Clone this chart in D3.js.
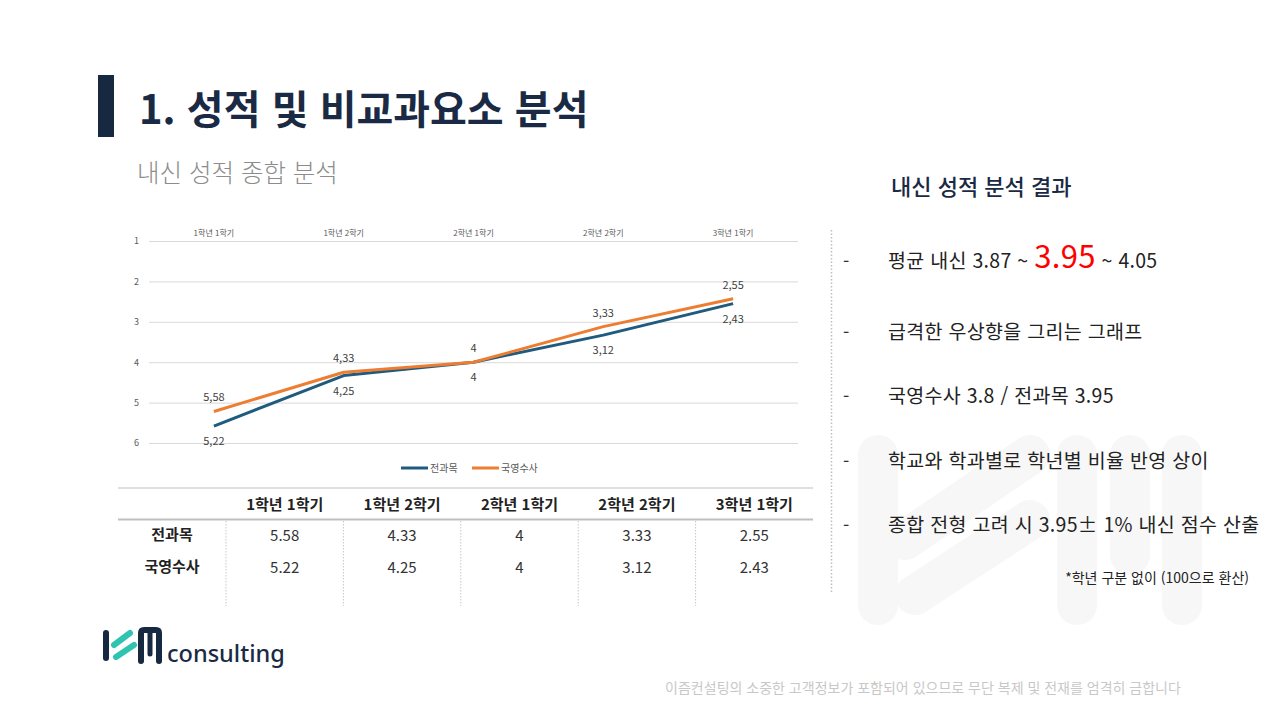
<!DOCTYPE html>
<html lang="ko">
<head>
  <meta charset="UTF-8">
  <title>성적 및 비교과요소 분석</title>
  <script src="https://d3js.org/d3.v7.min.js"></script>
  <style>
    body { margin: 0; background: #fff; }
    svg { display: block; font-family: "Noto Sans CJK KR", "Noto Sans", sans-serif; }
  </style>
</head>
<body>
  <div id="slide"></div>

  <script>
    // chart data
    const categories = ["1학년 1학기", "1학년 2학기", "2학년 1학기", "2학년 2학기", "3학년 1학기"];
    const allSubjects = [5.58, 4.33, 4, 3.33, 2.55];   // 전과목
    const coreSubjects = [5.22, 4.25, 4, 3.12, 2.43];  // 국영수사
    const seriesNames = ["전과목", "국영수사"];
    const yTicks = [1, 2, 3, 4, 5, 6];

    // right hand notes
    const notes = [
      "급격한 우상향을 그리는 그래프",
      "국영수사 3.8 / 전과목 3.95",
      "학교와 학과별로 학년별 비율 반영 상이",
      "종합 전형 고려 시 3.95± 1% 내신 점수 산출"
    ];

    const W = 1280, H = 720;
    const navy = "#172941";
    const blue = "#1f5b7e";
    const orange = "#ed7d31";

    const svg = d3.select("#slide")
      .append("svg")
      .attr("width", W)
      .attr("height", H);

    // faint watermark logo behind the notes
    const wm = svg.append("g").attr("fill", "#f7f7f7").attr("stroke", "#f7f7f7");
    wm.append("rect").attr("x", 858).attr("y", 435).attr("width", 40).attr("height", 190).attr("rx", 20).attr("stroke", "none");
    wm.append("line").attr("x1", 905).attr("y1", 540).attr("x2", 1030).attr("y2", 455)
      .attr("stroke-width", 40).attr("stroke-linecap", "round");
    wm.append("line").attr("x1", 915).attr("y1", 595).attr("x2", 1030).attr("y2", 520)
      .attr("stroke-width", 40).attr("stroke-linecap", "round");
    [1057, 1110, 1162].forEach((x, i) => {
      wm.append("rect").attr("x", x).attr("y", 435).attr("width", 40)
        .attr("height", i === 1 ? 140 : 190).attr("rx", 20).attr("stroke", "none");
    });

    // title block
    svg.append("rect").attr("x", 98).attr("y", 75).attr("width", 16).attr("height", 62).attr("fill", navy);
    svg.append("text")
      .attr("x", 139).attr("y", 124)
      .attr("font-size", 40).attr("font-weight", 700).attr("fill", "#1b2a44")
      .text("1. 성적 및 비교과요소 분석");
    svg.append("text")
      .attr("x", 137).attr("y", 182)
      .attr("font-size", 24.5).attr("font-weight", 300).attr("fill", "#8c8c8c")
      .text("내신 성적 종합 분석");

    // ---- line chart ----
    const x = d3.scaleBand()
      .domain(categories)
      .range([149, 798]);

    const y = d3.scaleLinear()
      .domain([1, 6])
      .range([241, 443]);

    const chart = svg.append("g");

    // gridlines + tick labels
    const yAxis = chart.append("g")
      .attr("transform", "translate(149,0)")
      .call(d3.axisLeft(y).tickValues(yTicks).tickSize(-(798 - 149)).tickPadding(10).tickFormat(d3.format("d")));
    yAxis.select(".domain").remove();
    yAxis.selectAll(".tick line").attr("stroke", "#d9d9d9").attr("stroke-width", 1);
    yAxis.selectAll(".tick text")
      .attr("font-size", 9).attr("fill", "#595959")
      .attr("font-family", "'Noto Sans CJK KR', sans-serif");

    // category labels on top
    const xAxis = chart.append("g")
      .attr("transform", "translate(0,236)")
      .call(d3.axisTop(x).tickSize(0).tickPadding(0));
    xAxis.select(".domain").remove();
    xAxis.selectAll(".tick text")
      .attr("font-size", 8).attr("fill", "#595959")
      .attr("font-family", "'Noto Sans CJK KR', sans-serif");

    const cx = d => x(d) + x.bandwidth() / 2;
    const line = d3.line()
      .x((d, i) => cx(categories[i]))
      .y(d => y(d));

    chart.append("path")
      .datum(allSubjects)
      .attr("fill", "none")
      .attr("stroke", blue)
      .attr("stroke-width", 3)
      .attr("stroke-linejoin", "round")
      .attr("d", line);

    chart.append("path")
      .datum(coreSubjects)
      .attr("fill", "none")
      .attr("stroke", orange)
      .attr("stroke-width", 3)
      .attr("stroke-linejoin", "round")
      .attr("d", line);

    // data labels (comma decimals, as on the slide)
    const commaFmt = v => String(v).replace(".", ",");
    chart.selectAll(".lbl-top")
      .data(categories)
      .enter()
      .append("text")
      .attr("class", "lbl-top")
      .attr("x", d => cx(d))
      .attr("y", (d, i) => y(Math.min(allSubjects[i], coreSubjects[i])) - 10)
      .attr("text-anchor", "middle")
      .attr("font-size", 11).attr("fill", "#404040")
      .text((d, i) => commaFmt(allSubjects[i]));

    chart.selectAll(".lbl-bot")
      .data(categories)
      .enter()
      .append("text")
      .attr("class", "lbl-bot")
      .attr("x", d => cx(d))
      .attr("y", (d, i) => y(Math.max(allSubjects[i], coreSubjects[i])) + 19)
      .attr("text-anchor", "middle")
      .attr("font-size", 11).attr("fill", "#404040")
      .text((d, i) => commaFmt(coreSubjects[i]));

    // legend
    const legend = chart.append("g").attr("transform", "translate(401,468)");
    [blue, orange].forEach((c, i) => {
      const g = legend.append("g").attr("transform", `translate(${i * 71},0)`);
      g.append("line").attr("x1", 0).attr("x2", 27).attr("y1", 0).attr("y2", 0)
        .attr("stroke", c).attr("stroke-width", 3);
      g.append("text").attr("x", 29).attr("y", 3.5)
        .attr("font-size", 10).attr("fill", "#595959")
        .text(seriesNames[i]);
    });

    // ---- data table ----
    const tableLeft = 118, tableRight = 813, firstCol = 226;
    const col = d3.scaleBand().domain(categories).range([firstCol, tableRight]);
    const table = svg.append("g");

    table.append("line").attr("x1", tableLeft).attr("x2", tableRight).attr("y1", 488).attr("y2", 488)
      .attr("stroke", "#bfbfbf").attr("stroke-width", 1);
    table.append("line").attr("x1", tableLeft).attr("x2", tableRight).attr("y1", 519.5).attr("y2", 519.5)
      .attr("stroke", "#bfbfbf").attr("stroke-width", 2);

    table.selectAll(".sep")
      .data(categories)
      .enter()
      .append("line")
      .attr("x1", d => col(d)).attr("x2", d => col(d))
      .attr("y1", 521).attr("y2", 606)
      .attr("stroke", "#c8c8c8").attr("stroke-width", 1).attr("stroke-dasharray", "1.5,1.5");

    table.selectAll(".head")
      .data(categories)
      .enter()
      .append("text")
      .attr("x", d => col(d) + col.bandwidth() / 2)
      .attr("y", 510)
      .attr("text-anchor", "middle")
      .attr("font-size", 15).attr("font-weight", 700).attr("fill", "#222")
      .text(d => d);

    [allSubjects, coreSubjects].forEach((vals, r) => {
      const rowY = 540 + r * 32;
      table.append("text")
        .attr("x", 172).attr("y", rowY)
        .attr("text-anchor", "middle")
        .attr("font-size", 15).attr("font-weight", 700).attr("fill", "#222")
        .text(seriesNames[r]);
      table.selectAll(".row" + r)
        .data(vals)
        .enter()
        .append("text")
        .attr("x", (d, i) => col(categories[i]) + col.bandwidth() / 2)
        .attr("y", rowY + 1)
        .attr("text-anchor", "middle")
        .attr("font-size", 15).attr("fill", "#333")
        .text(d => d);
    });

    // ---- right panel ----
    svg.append("text")
      .attr("x", 891).attr("y", 195)
      .attr("font-size", 22).attr("font-weight", 500).attr("fill", "#1b2a44")
      .text("내신 성적 분석 결과");

    svg.append("line")
      .attr("x1", 831.5).attr("x2", 831.5).attr("y1", 230).attr("y2", 594)
      .attr("stroke", "#bdbdbd").attr("stroke-width", 1.5).attr("stroke-dasharray", "1.5,2");

    const noteYs = [268, 339, 403, 468, 532];
    noteYs.forEach(ny => {
      svg.append("text").attr("x", 843).attr("y", ny)
        .attr("font-size", 18).attr("fill", "#333").text("-");
    });

    const first = svg.append("text")
      .attr("x", 888).attr("y", noteYs[0])
      .attr("font-size", 19.5).attr("letter-spacing", 0.3).attr("fill", "#222");
    first.append("tspan").text("평균 내신 3.87 ~ ");
    first.append("tspan").attr("font-size", 31).attr("fill", "#ff0000").text("3.95");
    first.append("tspan").text(" ~ 4.05");

    notes.forEach((t, i) => {
      svg.append("text")
        .attr("x", 888).attr("y", noteYs[i + 1])
        .attr("font-size", 19.5).attr("letter-spacing", 0.3).attr("fill", "#222")
        .text(t);
    });

    svg.append("text")
      .attr("x", 1249).attr("y", 583)
      .attr("text-anchor", "end")
      .attr("font-size", 14).attr("fill", "#222")
      .text("*학년 구분 없이 (100으로 환산)");

    // ---- logo ----
    const logo = svg.append("g");
    logo.append("rect").attr("x", 103).attr("y", 630).attr("width", 6).attr("height", 31).attr("rx", 3).attr("fill", navy);
    logo.append("line").attr("x1", 114).attr("y1", 645).attr("x2", 130).attr("y2", 633)
      .attr("stroke", "#2ec4b0").attr("stroke-width", 6).attr("stroke-linecap", "round");
    logo.append("line").attr("x1", 116).attr("y1", 657).attr("x2", 134).attr("y2", 645)
      .attr("stroke", "#2ec4b0").attr("stroke-width", 6).attr("stroke-linecap", "round");
    logo.append("path")
      .attr("d", "M141,661 V633 Q141,630 144,630 H156 Q159,630 159,633 V661")
      .attr("fill", "none").attr("stroke", navy).attr("stroke-width", 6).attr("stroke-linecap", "round");
    logo.append("line").attr("x1", 150).attr("y1", 632).attr("x2", 150).attr("y2", 654)
      .attr("stroke", navy).attr("stroke-width", 5).attr("stroke-linecap", "round");
    logo.append("text")
      .attr("x", 167).attr("y", 662)
      .attr("font-family", "'Noto Sans', sans-serif")
      .attr("font-size", 23.5).attr("font-weight", 500).attr("fill", "#1b2a44")
      .text("consulting");

    // footer
    svg.append("text")
      .attr("x", 923).attr("y", 693)
      .attr("text-anchor", "middle")
      .attr("font-size", 14).attr("fill", "#c8c8c8")
      .text("이즘컨설팅의 소중한 고객정보가 포함되어 있으므로 무단 복제 및 전재를 엄격히 금합니다");
  </script>
</body>
</html>
